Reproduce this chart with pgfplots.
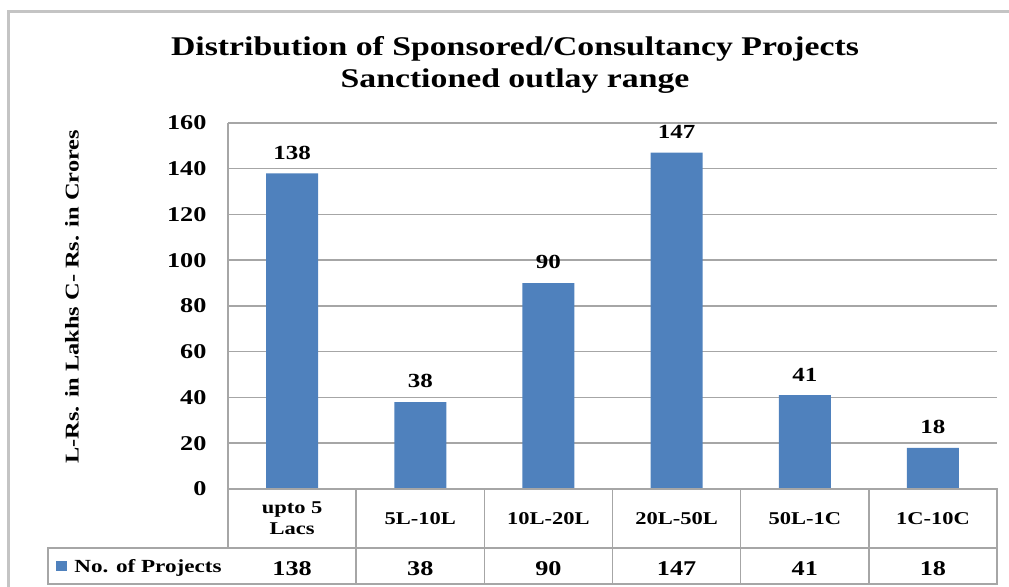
\documentclass[border=0pt]{standalone}
\usepackage{fontspec}
\setmainfont{Liberation Serif}[FakeStretch=1.25]
\usepackage{pgfplots}
\usepackage{pgfplotstable}
\pgfplotsset{compat=1.18}

\definecolor{barblue}{HTML}{4F81BD}
\definecolor{gridgray}{HTML}{A6A6A6}
\definecolor{framegray}{HTML}{C4C4C4}

% bold text at a given size in bp
\newcommand\bfs[1]{\fontsize{#1bp}{1.15\dimexpr#1bp\relax}\selectfont\bfseries}

\pgfplotstableread{
idx n
0 138
1 38
2 90
3 147
4 41
5 18
}\projects

\begin{document}
\begin{tikzpicture}[x=1bp,y=1bp]
\path[use as bounding box] (0,0) rectangle (1009,587);
% outer chart frame
\draw[framegray, line width=3bp] (8,0) -- (8,575) -- (1009,575);

% title
\node[anchor=base, font=\bfs{27}] at (515,531) {Distribution of Sponsored/Consultancy Projects};
\node[anchor=base, font=\bfs{27}] at (515,499) {Sanctioned outlay range};

\begin{axis}[
  at={(228bp,98bp)}, anchor=south west,
  scale only axis, width=769bp, height=366bp,
  xmin=-0.5, xmax=5.5, ymin=0, ymax=160,
  clip=false,
  /pgf/number format/assume math mode=true,
  axis y line*=left, axis x line*=bottom,
  axis line style={gridgray, line width=1.5bp},
  ytick={0,20,...,160},
  ymajorgrids,
  grid style={gridgray, line width=1.5bp},
  major tick length=0pt,
  yticklabel style={font=\bfs{21}, xshift=-18bp},
  xtick={0,...,5},
  xticklabels={{upto 5\\Lacs},5L-10L,10L-20L,20L-50L,50L-1C,1C-10C},
  xticklabel style={font=\bfs{18}, align=center, anchor=center, yshift=-29.5bp},
  ylabel={L-Rs. in Lakhs C- Rs. in Crores},
  ylabel style={font=\bfs{19.5}, at={(axis description cs:-0.2029,0.525)}, anchor=center},
]
% bars with value labels
\addplot[ybar, bar width=52bp, fill=barblue, draw=none,
  nodes near coords,
  every node near coord/.append style={font=\bfs{20}, text=black, yshift=10.5bp}]
  table[x=idx, y=n] {\projects};

% data table under the plot
\draw[gridgray, line width=1.5bp]
  (axis cs:-0.5,0) rectangle (axis cs:5.5,-25.8)
  (axis cs:-1.904,-25.8) rectangle (axis cs:5.5,-41.5)
  (axis cs:0.5,0) -- (axis cs:0.5,-41.5)
  (axis cs:1.5,0) -- (axis cs:1.5,-41.5)
  (axis cs:2.5,0) -- (axis cs:2.5,-41.5)
  (axis cs:3.5,0) -- (axis cs:3.5,-41.5)
  (axis cs:4.5,0) -- (axis cs:4.5,-41.5);
% values row of the table
\addplot[draw=none, mark=none,
  nodes near coords, point meta=explicit,
  every node near coord/.style={anchor=center, font=\bfs{21}, text=black}]
  table[x=idx, y expr=-34.75, meta=n] {\projects};
\node[anchor=base west, font=\bfs{18.5}, inner sep=0pt] at (axis cs:-1.841,-36.3)
  {\textcolor{barblue}{\raisebox{1bp}{\rule{11bp}{10.5bp}}}\hspace{7bp}No. of Projects};
\end{axis}
\end{tikzpicture}
\end{document}
